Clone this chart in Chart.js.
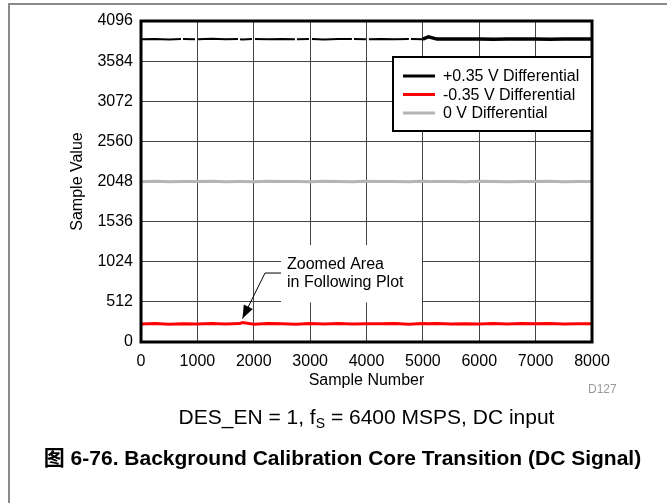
<!DOCTYPE html>
<html lang="en">
<head>
    <meta charset="UTF-8">
    <title>Background Calibration Core Transition (DC Signal)</title>
    <script src="https://cdn.jsdelivr.net/npm/chart.js"></script>
    <style>
        html, body { margin: 0; padding: 0; background: #fff; overflow: hidden; }
        body { width: 667px; height: 503px; position: relative; font-family: "Liberation Sans", Arial, sans-serif; }
        #frame { position: absolute; left: 8px; top: 3px; width: 700px; height: 600px; border: 2px solid #8a8a8a; box-sizing: border-box; }
        #chart { position: absolute; left: 0; top: 0; }
        .txt { position: absolute; white-space: nowrap; color: #000; }
        #sub { left: 0; width: 733px; text-align: center; top: 404px; font-size: 21px; line-height: 26px; }
        #sub sub { font-size: 14px; line-height: 0; vertical-align: -4px; }
        #cap { left: 0; width: 685px; text-align: center; top: 445px; font-size: 21px; line-height: 26px; font-weight: bold;
               font-family: "Liberation Sans", "Noto Sans CJK SC", sans-serif; }
        #code { left: 588px; top: 382px; font-size: 12px; line-height: 14px; color: #9a9a9a; }
    </style>
</head>
<body>
    <div id="frame"></div>
    <canvas id="chart" width="667" height="503"></canvas>
    <div class="txt" id="code">D127</div>
    <div class="txt" id="sub">DES_EN = 1, f<sub>S</sub> = 6400 MSPS, DC input</div>
    <div class="txt" id="cap">图 6-76. Background Calibration Core Transition (DC Signal)</div>

    <script>
        // valores (aprox.)
        const sampleNumbers = [0, 250, 500, 750, 1000, 1250, 1500, 1750, 1800, 2000, 2250, 2500, 2750, 3000, 3250, 3500, 3750,
            4000, 4250, 4500, 4750, 5000, 5100, 5250, 5500, 5750, 6000, 6250, 6500, 6750, 7000, 7250, 7500, 7750, 8000];
        const plus035 = [3863, 3867, 3860, 3866, 3862, 3868, 3863, 3865, 3861, 3867, 3862, 3866, 3864, 3868, 3861, 3865, 3867,
            3862, 3866, 3863, 3867, 3864, 3895, 3865, 3866, 3865, 3866, 3864, 3865, 3866, 3865, 3864, 3866, 3865, 3865];
        const minus035 = [230, 236, 227, 234, 231, 237, 229, 235, 248, 228, 236, 232, 226, 235, 231, 237, 229,
            234, 232, 236, 228, 235, 232, 237, 230, 234, 231, 236, 229, 235, 232, 237, 230, 234, 233];
        const zeroDiff = [2046, 2050, 2045, 2049, 2047, 2051, 2046, 2049, 2048, 2045, 2050, 2047, 2049, 2046, 2051, 2048, 2045,
            2050, 2047, 2049, 2046, 2050, 2048, 2047, 2049, 2046, 2050, 2048, 2045, 2049, 2047, 2050, 2046, 2049, 2048];
        const seriesLabels = ['+0.35 V Differential', '-0.35 V Differential', '0 V Differential'];
        const seriesColors = ['#000000', '#ff0000', '#b4b4b4'];
        const yTicks = [0, 512, 1024, 1536, 2048, 2560, 3072, 3584, 4096];
        const xTicks = [0, 1000, 2000, 3000, 4000, 5000, 6000, 7000, 8000];
        const noteLines = ['Zoomed Area', 'in Following Plot'];
        const noteTarget = { x: 1800, y: 300 };

        const FONT = '"Liberation Sans", Arial, sans-serif';

        function pts(vals) {
            return vals.map((v, i) => ({ x: sampleNumbers[i], y: v }));
        }

        // moldura, legenda e anotação
        const extras = {
            id: 'extras',
            afterDatasetsDraw(chart) {
                const { ctx, chartArea: a, scales: { x, y } } = chart;
                ctx.save();
                ctx.strokeStyle = '#000';
                ctx.lineWidth = 3;
                ctx.strokeRect(a.left, a.top, a.right - a.left, a.bottom - a.top);

                // anotação
                const bx0 = x.getPixelForValue(2483), bx1 = x.getPixelForValue(4984);
                const by0 = y.getPixelForValue(1238), by1 = y.getPixelForValue(505);
                ctx.fillStyle = '#fff';
                ctx.fillRect(bx0, by0, bx1 - bx0, by1 - by0);
                ctx.fillStyle = '#000';
                ctx.font = '16px ' + FONT;
                ctx.textBaseline = 'middle';
                ctx.textAlign = 'left';
                ctx.fillText(noteLines[0], x.getPixelForValue(2590), y.getPixelForValue(982));
                ctx.fillText(noteLines[1], x.getPixelForValue(2590), y.getPixelForValue(753));

                const ex = x.getPixelForValue(2200), ey = y.getPixelForValue(880);
                const tx = x.getPixelForValue(noteTarget.x), ty = y.getPixelForValue(noteTarget.y);
                ctx.lineWidth = 1;
                ctx.beginPath();
                ctx.moveTo(bx0, ey);
                ctx.lineTo(ex, ey);
                ctx.lineTo(tx, ty);
                ctx.stroke();
                const ang = Math.atan2(ty - ey, tx - ex);
                const L = 13, W = 5;
                ctx.beginPath();
                ctx.moveTo(tx, ty);
                ctx.lineTo(tx - L * Math.cos(ang) + W * Math.sin(ang), ty - L * Math.sin(ang) - W * Math.cos(ang));
                ctx.lineTo(tx - L * Math.cos(ang) - W * Math.sin(ang), ty - L * Math.sin(ang) + W * Math.cos(ang));
                ctx.closePath();
                ctx.fill();

                // legenda
                const lx = a.right - 199, ly = a.top + 36, lw = 199, lh = 74;
                ctx.fillStyle = '#fff';
                ctx.fillRect(lx, ly, lw, lh);
                ctx.lineWidth = 2;
                ctx.strokeStyle = '#000';
                ctx.strokeRect(lx, ly, lw, lh);
                seriesLabels.forEach((lab, i) => {
                    const yy = ly + 19 + i * 18.5;
                    ctx.strokeStyle = seriesColors[i];
                    ctx.lineWidth = 3;
                    ctx.beginPath();
                    ctx.moveTo(lx + 10, yy);
                    ctx.lineTo(lx + 42, yy);
                    ctx.stroke();
                    ctx.fillStyle = '#000';
                    ctx.fillText(lab, lx + 50, yy + 1);
                });
                ctx.restore();
            }
        };

        const ctx = document.getElementById('chart').getContext('2d');
        const chart = new Chart(ctx, {
            type: 'line',
            data: {
                datasets: [{
                    label: seriesLabels[0],
                    data: pts(plus035),
                    borderColor: seriesColors[0],
                    borderWidth: 3,
                    segment: {
                        borderWidth: c => c.p0.parsed.x >= 5000 ? 3.5 : 2,
                        borderDash: c => c.p0.parsed.x >= 5000 ? [] : [40, 2, 12, 3]
                    }
                }, {
                    label: seriesLabels[1],
                    data: pts(minus035),
                    borderColor: seriesColors[1],
                    borderWidth: 3
                }, {
                    label: seriesLabels[2],
                    data: pts(zeroDiff),
                    borderColor: seriesColors[2],
                    borderWidth: 3
                }]
            },
            options: {
                responsive: false,
                animation: false,
                devicePixelRatio: 1,
                elements: { point: { radius: 0 }, line: { tension: 0 } },
                layout: { padding: { left: 60, top: 21, right: 75, bottom: 111 } },
                plugins: { legend: { display: false }, tooltip: { enabled: false } },
                scales: {
                    x: {
                        type: 'linear',
                        min: 0,
                        max: 8000,
                        afterFit: s => { s.height = 50; },
                        afterBuildTicks: s => { s.ticks = xTicks.map(v => ({ value: v })); },
                        ticks: { color: '#000', padding: 10, font: { size: 16, family: FONT }, callback: v => String(v) },
                        grid: { color: '#444', lineWidth: 1, drawTicks: false },
                        border: { display: false },
                        title: { display: true, text: 'Sample Number', color: '#000', font: { size: 16, family: FONT }, padding: { top: 0, bottom: 2 } }
                    },
                    y: {
                        min: 0,
                        max: 4096,
                        afterFit: s => { s.width = 81; },
                        afterBuildTicks: s => { s.ticks = yTicks.map(v => ({ value: v })); },
                        ticks: { color: '#000', padding: 8, font: { size: 16, family: FONT }, callback: v => String(v) },
                        grid: { color: '#444', lineWidth: 1, drawTicks: false },
                        border: { display: false },
                        title: { display: true, text: 'Sample Value', color: '#000', font: { size: 16, family: FONT }, padding: { top: 8, bottom: 0 } }
                    }
                }
            },
            plugins: [extras]
        });
    </script>
</body>
</html>
